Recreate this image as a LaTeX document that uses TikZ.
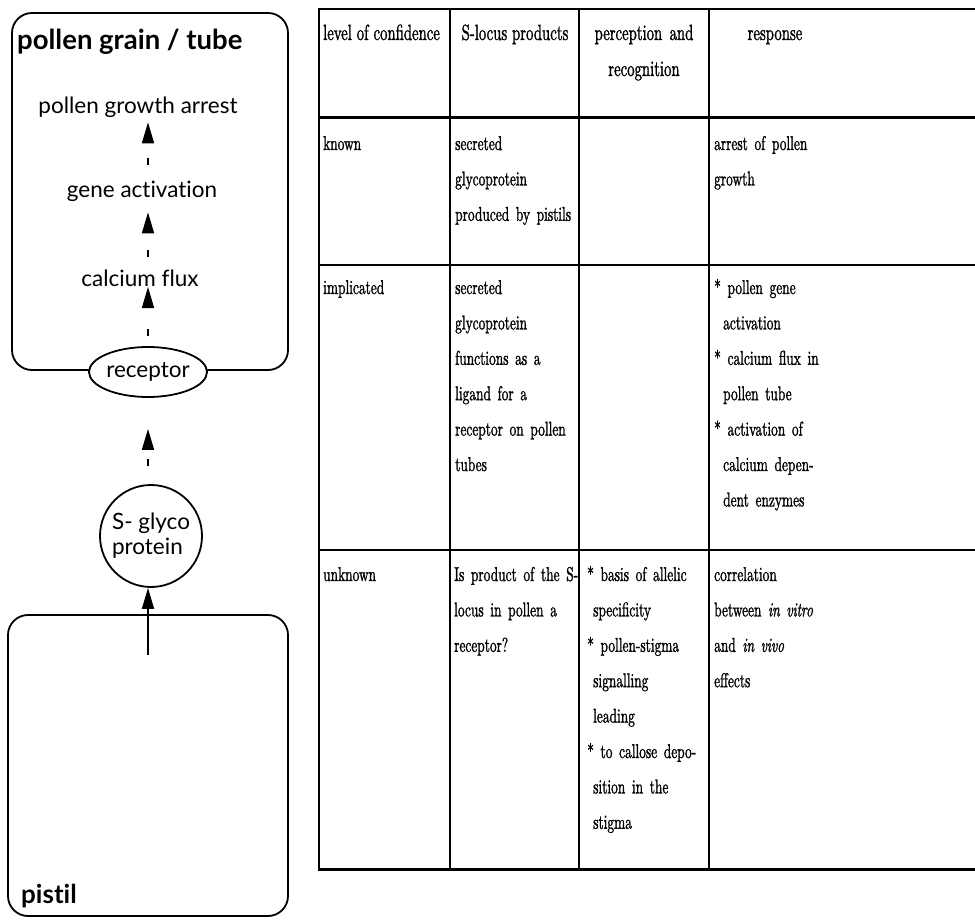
\documentclass[tikz,border=0pt]{standalone}
\usepackage{fontspec}
\usetikzlibrary{arrows.meta,shapes.geometric}
\newfontfamily\lfont{Lato}[Ligatures=NoCommon]
\newfontfamily\tabfont{lmroman10-regular}[Extension=.otf, ItalicFont=lmroman10-italic, FakeStretch=0.67, FakeBold=1.2]
\tikzset{
  lbl/.style={font=\lfont\fontsize{22.5}{28}\selectfont, inner sep=0pt, anchor=base},
  ttl/.style={font=\lfont\bfseries\fontsize{#1}{30}\selectfont, inner sep=0pt, anchor=base west},
  ttl/.default=27.5,
  cell/.style={font=\tabfont\fontsize{20}{35.4}\selectfont, inner sep=0pt, anchor=base west, align=left, text width=#1},
  cell/.default=150pt,
  hdr/.style={font=\tabfont\fontsize{22}{36}\selectfont, inner sep=0pt, anchor=base},
  boxline/.style={draw, line width=1.8pt, rounded corners=20pt},
  tip/.style={-{Triangle[length=21pt,width=12pt]}, line width=1.6pt},
  dsh/.style={tip, dash pattern=on 0pt off #1 on 7pt off 80pt},
  vrule/.style={line width=2pt},
  hrule/.style={line width=#1},
}
\begin{document}
\begin{tikzpicture}[x=1pt,y=-1pt]
\useasboundingbox (0,0) rectangle (975,920);
% ---------- left diagram ----------
\draw[boxline] (12,13) rectangle (288,370);
\node[ttl] (ptitle) at (17,50) {pollen grain / tube};
\node[lbl] (arrest) at (138,114) {pollen growth arrest};
\node[lbl] (gene) at (142,198) {gene activation};
\node[lbl] (calc) at (140,287) {calcium flux};
\node[ellipse, draw, line width=1.8pt, fill=white, minimum width=114pt, minimum height=50pt, inner sep=0pt,
      font=\lfont\fontsize{22.5}{28}\selectfont] (receptor) at (148,372) {receptor};
\node[circle, draw, line width=1.8pt, minimum size=102pt, inner sep=0pt,
      font=\lfont\fontsize{22.5}{27}\selectfont] (glyco) at (151,536)
      {\raisebox{5pt}{\shortstack[l]{S- glyco\\[1pt]protein}}};
\draw[boxline] (8,615) rectangle (288,916);
\node[ttl=26] (pistil) at (21,903) {pistil};
\coordinate (psrc) at (148,655);

\draw[dsh=10pt] (receptor.north) -- (receptor.north |- calc.base);
\draw[dsh=13pt, shorten >=10pt] (receptor.north |- calc.north) -- (receptor.north |- gene.south);
\draw[dsh=16pt, shorten >=4pt] (receptor.north |- gene.north) -- (receptor.north |- arrest.south);
\draw[dsh=18pt, shorten >=31pt] (glyco.north -| receptor.north) -- (receptor.south);
\draw[tip] (psrc) -- (psrc |- glyco.south);

% ---------- table ----------
\foreach \x in {319,450,579,709} \draw[vrule] (\x,8) -- (\x,870);
\draw[hrule=2pt] (318,9) -- (975,9);
\draw[hrule=3pt] (318,118) -- (975,118);
\draw[hrule=2.5pt] (318,265) -- (975,265);
\draw[hrule=2.5pt] (318,550) -- (975,550);
\draw[hrule=3pt] (318,869) -- (975,869);

\node[hdr, anchor=base west] (hconf) at (323,40) {level of confidence};
\node[hdr] (hslp) at (515,40) {S-locus products};
\node[hdr, align=center, text width=130pt] (hperc) at (644,40) {perception and\\recognition};
\node[hdr] (hresp) at (775,40) {response};

\node[cell] (c11) at (323,150) {known};
\node[cell] (c12) at (455,150) {secreted\\glycoprotein\\produced by pistils};
\node[cell=250pt] (c14) at (714,150) {arrest of pollen\\growth};

\node[cell] (c21) at (323,294) {implicated};
\node[cell] (c22) at (455,294) {secreted\\glycoprotein\\functions as a\\ligand for a\\receptor on pollen\\tubes};
\node[cell=250pt] (c24) at (714,294) {{*} pollen gene\\\hspace*{9pt}activation\\{*} calcium flux in\\\hspace*{9pt}pollen tube\\{*} activation of\\\hspace*{9pt}calcium depen-\\\hspace*{9pt}dent enzymes};

\node[cell] (c31) at (323,581) {unknown};
\node[cell] (c32) at (454,581) {Is product of the S-\\locus in pollen a\\receptor?};
\node[cell] (c33) at (587,581) {{*} basis of allelic\\\hspace*{6pt}specificity\\{*} pollen-stigma\\\hspace*{6pt}signalling\\\hspace*{6pt}leading\\{*} to callose depo-\\\hspace*{6pt}sition in the\\\hspace*{6pt}stigma};
\node[cell=250pt] (c34) at (714,581) {correlation\\between \textit{in vitro}\\and \textit{in vivo}\\effects};
\end{tikzpicture}
\end{document}
